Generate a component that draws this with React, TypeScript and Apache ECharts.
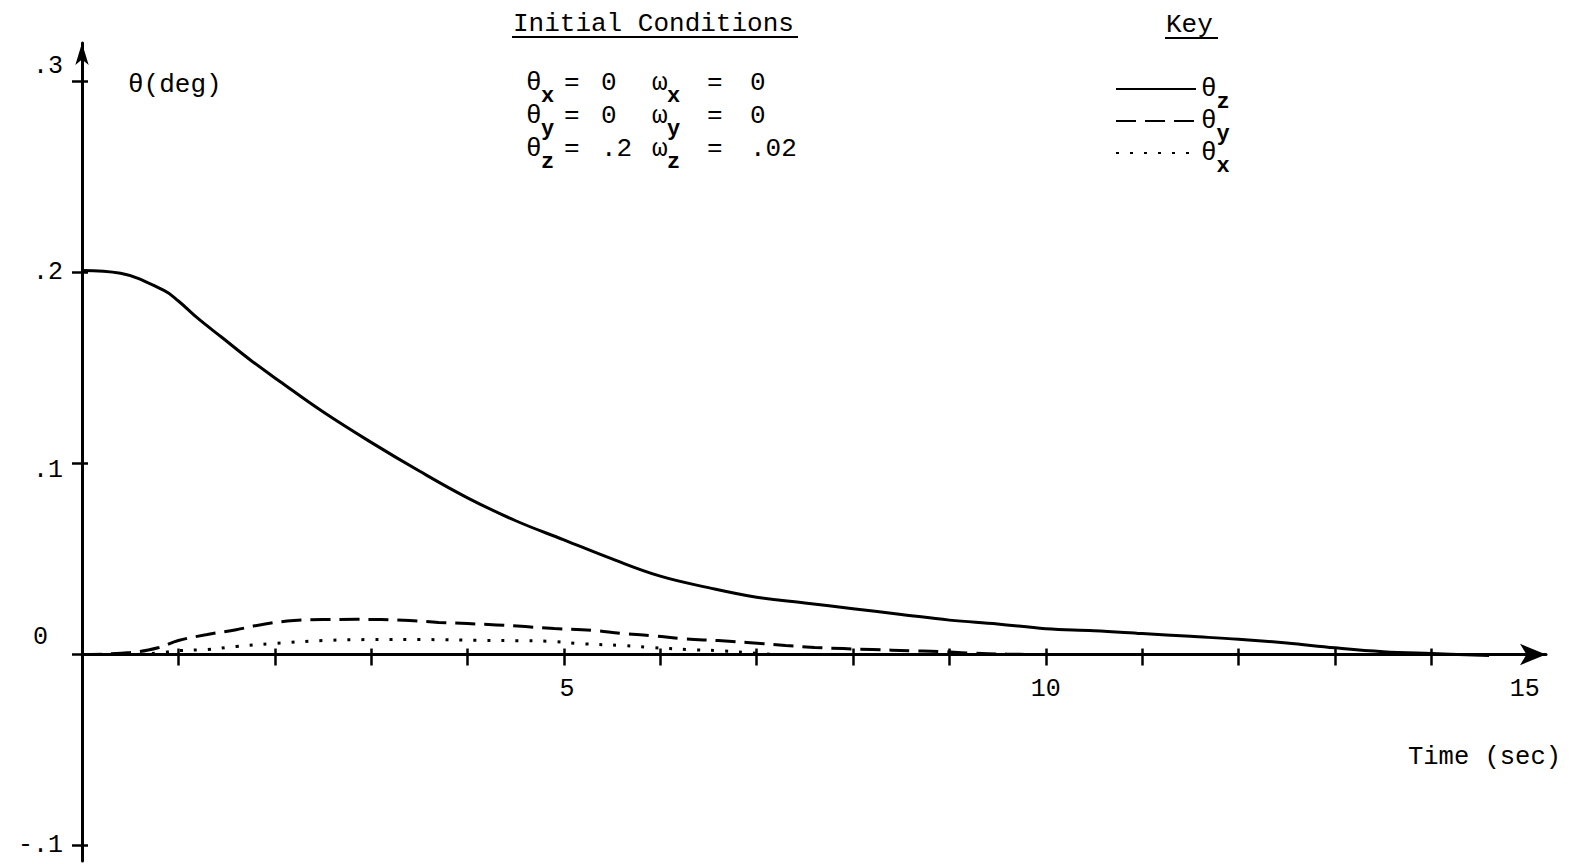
import React, { useEffect, useRef } from "react";
import * as echarts from "echarts";

// ---- data ----
const timeZ = [0, 0.4, 0.85, 1.0, 1.2, 1.45, 1.75, 2.05, 2.5, 3, 3.5, 4, 4.5, 5, 5.5, 6, 6.5, 7, 7.5, 8, 8.5, 9, 9.5, 10, 10.5, 11, 11.5, 12, 12.5, 13, 13.5, 14, 14.6];
const thetaZ = [0.201, 0.1995, 0.1905, 0.185, 0.176, 0.166, 0.154, 0.143, 0.127, 0.111, 0.096, 0.082, 0.07, 0.06, 0.05, 0.041, 0.035, 0.03, 0.027, 0.024, 0.021, 0.018, 0.016, 0.0135, 0.0125, 0.011, 0.0095, 0.008, 0.006, 0.0035, 0.0015, 0.0005, -0.0005];

const timeY = [0, 0.5, 0.8, 1.0, 1.3, 1.6, 1.9, 2.2, 2.5, 2.85, 3.1, 3.4, 3.7, 4.0, 4.3, 4.6, 4.9, 5.3, 5.6, 5.9, 6.25, 6.6, 6.9, 7.3, 7.6, 7.9, 8.2, 8.6, 8.9, 9.2, 9.6, 10.0];
const thetaY = [0, 0.001, 0.0037, 0.0073, 0.0105, 0.013, 0.016, 0.0178, 0.0183, 0.0184, 0.0183, 0.0178, 0.0168, 0.0162, 0.0155, 0.0146, 0.0136, 0.0126, 0.011, 0.0099, 0.0082, 0.0073, 0.0063, 0.0047, 0.0037, 0.0031, 0.0026, 0.002, 0.0016, 0.0008, 0.0002, 0];

const timeX = [0, 0.5, 0.8, 1.0, 1.3, 1.6, 2.0, 2.5, 3.0, 3.6, 4.1, 4.6, 4.9, 5.2, 5.6, 5.9, 6.3, 6.6, 6.9, 7.2];
const thetaX = [0, 0, 0.0008, 0.002, 0.0026, 0.0042, 0.0058, 0.0073, 0.0078, 0.0078, 0.0074, 0.0072, 0.0068, 0.0056, 0.0047, 0.0037, 0.0026, 0.002, 0.001, 0];

const seriesNames = ["θz", "θy", "θx"];
const xTickValues = [1, 2, 3, 4, 5, 6, 7, 8, 9, 10, 11, 12, 13, 14];
const xLabelValues = [5, 10, 15];
const yTickValues = [-0.1, 0, 0.1, 0.2, 0.3];
const yTickLabels = ["-.1", "0", ".1", ".2", ".3"];

const conditionRows = [
  { angle: "x", angleValue: "0", rate: "x", rateValue: "0" },
  { angle: "y", angleValue: "0", rate: "y", rateValue: "0" },
  { angle: "z", angleValue: ".2", rate: "z", rateValue: ".02" },
];

const FONT = '"Liberation Mono", "DejaVu Sans Mono", monospace';

const X_MIN = 0;
const X_MAX = 15.19;
const Y_MIN = -0.108;
const Y_MAX = 0.32;

export default function App() {
  const ref = useRef<HTMLDivElement>(null);

  useEffect(() => {
    if (!ref.current) return;
    const chart = echarts.init(ref.current, null, { renderer: "svg" });

    const pairs = (t: number[], v: number[]) => t.map((x, i) => [x, v[i]]);

    const yRich = {
      u: { fontFamily: FONT, fontSize: 25, color: "#000", padding: [0, 0, 30, 0] },
      d: { fontFamily: FONT, fontSize: 25, color: "#000", padding: [14, 0, 0, 0] },
      z: { fontFamily: FONT, fontSize: 25, color: "#000", padding: [0, 15, 34, 0] },
      n: { fontFamily: FONT, fontSize: 25, color: "#000" },
    };
    const yStyleFor = ["n", "z", "d", "n", "u"];

    const condRich = {
      g: { fontFamily: FONT, fontSize: 26, width: 15, lineHeight: 24, fill: "#000" },
      s1: { fontFamily: FONT, fontSize: 22, fontWeight: "bold", width: 23, lineHeight: 22, padding: [26, 0, 0, 0], fill: "#000" },
      e1: { fontFamily: FONT, fontSize: 26, width: 37, lineHeight: 24, fill: "#000" },
      v1: { fontFamily: FONT, fontSize: 26, width: 51, lineHeight: 24, fill: "#000" },
      s2: { fontFamily: FONT, fontSize: 22, fontWeight: "bold", width: 40, lineHeight: 22, padding: [26, 0, 0, 0], fill: "#000" },
      e2: { fontFamily: FONT, fontSize: 26, width: 43, lineHeight: 24, fill: "#000" },
      v2: { fontFamily: FONT, fontSize: 26, lineHeight: 24, fill: "#000" },
    };

    const rowYs = [83, 116, 149];
    const condTexts = conditionRows.map((r, i) => ({
      type: "text",
      x: 526,
      y: rowYs[i],
      style: {
        text: `{g|θ}{s1|${r.angle}}{e1|=}{v1|${r.angleValue}}{g|ω}{s2|${r.rate}}{e2|=}{v2|${r.rateValue}}`,
        rich: condRich,
        align: "left",
        verticalAlign: "middle",
        fill: "#000",
      },
    }));

    const tickLine = { color: "#000", width: 2.5 };

    // main grid: y from Y_MIN..Y_MAX; label grid: bottom edge on the zero line
    const gridLeft = 82;
    const gridTop = 43;
    const gridWidth = 1464;
    const pxPerUnit = 1911;
    const gridHeight = (Y_MAX - Y_MIN) * pxPerUnit;
    const zeroY = gridTop + Y_MAX * pxPerUnit;

    const option: any = {
      animation: false,
      backgroundColor: "#fff",
      grid: [
        { left: gridLeft, top: gridTop, width: gridWidth, height: gridHeight, outerBoundsMode: "none" },
        { left: gridLeft, top: gridTop, width: gridWidth, height: zeroY - gridTop, outerBoundsMode: "none" },
      ],
      xAxis: [
        {
          type: "value",
          gridIndex: 0,
          min: X_MIN,
          max: X_MAX,
          position: "bottom",
          axisLine: {
            show: true,
            onZero: true,
            symbol: ["none", "arrow"],
            symbolSize: [16, 26],
            lineStyle: { color: "#000", width: 3 },
          },
          axisTick: { show: true, customValues: xTickValues, length: 11, lineStyle: tickLine },
          axisLabel: { show: false },
          splitLine: { show: false },
        },
        {
          type: "value",
          gridIndex: 0,
          min: X_MIN,
          max: X_MAX,
          position: "bottom",
          axisLine: { show: false, onZero: true },
          axisTick: { show: true, inside: true, customValues: xTickValues, length: 6, lineStyle: tickLine },
          axisLabel: { show: false },
          splitLine: { show: false },
        },
        {
          type: "value",
          gridIndex: 1,
          min: X_MIN,
          max: X_MAX,
          position: "bottom",
          axisLine: { show: false, onZero: false },
          axisTick: { show: false },
          axisLabel: {
            customValues: xLabelValues,
            margin: 22,
            color: "#000",
            fontFamily: FONT,
            fontSize: 25,
            formatter: (v: number) => (v === 15 ? "{l|15}" : v === 5 ? "{r|5}" : String(v)),
            rich: {
              l: { fontFamily: FONT, fontSize: 25, color: "#000", padding: [0, 6, 0, 0] },
              r: { fontFamily: FONT, fontSize: 25, color: "#000", padding: [0, 0, 0, 6] },
            },
          },
          splitLine: { show: false },
        },
      ],
      yAxis: [
        {
          type: "value",
          gridIndex: 0,
          min: Y_MIN,
          max: Y_MAX,
          position: "left",
          axisLine: {
            show: true,
            onZero: true,
            symbol: ["none", "arrow"],
            symbolSize: [10, 22],
            lineStyle: { color: "#000", width: 3 },
          },
          axisTick: { show: true, customValues: yTickValues, length: 10, lineStyle: tickLine },
          axisLabel: {
            customValues: yTickValues,
            margin: 19,
            color: "#000",
            fontFamily: FONT,
            fontSize: 25,
            formatter: (v: number) => {
              const i = Math.round(v * 10) + 1;
              return `{${yStyleFor[i]}|${yTickLabels[i]}}`;
            },
            rich: yRich,
          },
          splitLine: { show: false },
        },
        {
          type: "value",
          gridIndex: 0,
          min: Y_MIN,
          max: Y_MAX,
          position: "left",
          axisLine: { show: false, onZero: true },
          axisTick: { show: true, inside: true, customValues: yTickValues, length: 6, lineStyle: tickLine },
          axisLabel: { show: false },
          splitLine: { show: false },
        },
        {
          type: "value",
          gridIndex: 1,
          min: 0,
          max: Y_MAX,
          show: false,
        },
      ],
      legend: {
        data: seriesNames,
        orient: "vertical",
        left: 1110,
        top: 60,
        itemWidth: 80,
        itemHeight: 20,
        itemGap: -16,
        selectedMode: false,
        itemStyle: { opacity: 0 },
        formatter: (name: string) => `{t|θ}{s|${name.slice(1)}}`,
        textStyle: {
          color: "#000",
          rich: {
            t: { fontFamily: FONT, fontSize: 26, lineHeight: 24, color: "#000" },
            s: { fontFamily: FONT, fontSize: 22, fontWeight: "bold", lineHeight: 22, padding: [26, 0, 0, 0], color: "#000" },
          },
        },
      },
      series: [
        {
          name: seriesNames[0],
          type: "line",
          xAxisIndex: 0,
          yAxisIndex: 0,
          data: pairs(timeZ, thetaZ),
          symbol: "none",
          smooth: 0.4,
          itemStyle: { color: "#000" },
          lineStyle: { color: "#000", width: 3, type: "solid" },
        },
        {
          name: seriesNames[1],
          type: "line",
          xAxisIndex: 0,
          yAxisIndex: 0,
          data: pairs(timeY, thetaY),
          symbol: "none",
          smooth: 0.4,
          itemStyle: { color: "#000" },
          lineStyle: { color: "#000", width: 3, type: [20, 9] },
        },
        {
          name: seriesNames[2],
          type: "line",
          xAxisIndex: 0,
          yAxisIndex: 0,
          data: pairs(timeX, thetaX),
          symbol: "none",
          smooth: 0.4,
          itemStyle: { color: "#000" },
          lineStyle: { color: "#000", width: 3, type: [3, 11] },
        },
      ],
      graphic: [
        {
          type: "text",
          x: 513,
          y: 24,
          style: { text: "Initial Conditions", fontFamily: FONT, fontSize: 26, fill: "#000", align: "left", verticalAlign: "middle" },
        },
        { type: "line", shape: { x1: 512, y1: 37, x2: 798, y2: 37 }, style: { stroke: "#000", lineWidth: 2 } },
        {
          type: "text",
          x: 1166,
          y: 25,
          style: { text: "Key", fontFamily: FONT, fontSize: 26, fill: "#000", align: "left", verticalAlign: "middle" },
        },
        { type: "line", shape: { x1: 1165, y1: 38, x2: 1218, y2: 38 }, style: { stroke: "#000", lineWidth: 2 } },
        {
          type: "text",
          x: 128,
          y: 85,
          style: { text: "θ(deg)", fontFamily: FONT, fontSize: 26, fill: "#000", align: "left", verticalAlign: "middle" },
        },
        {
          type: "text",
          x: 1408,
          y: 757,
          style: { text: "Time (sec)", fontFamily: FONT, fontSize: 25.5, fill: "#000", align: "left", verticalAlign: "middle" },
        },
        ...condTexts,
      ],
    };

    chart.setOption(option);
    return () => chart.dispose();
  }, []);

  return (
    <div
      ref={ref}
      style={{ position: "absolute", left: 0, top: 0, width: 1576, height: 864, background: "#fff" }}
    />
  );
}
